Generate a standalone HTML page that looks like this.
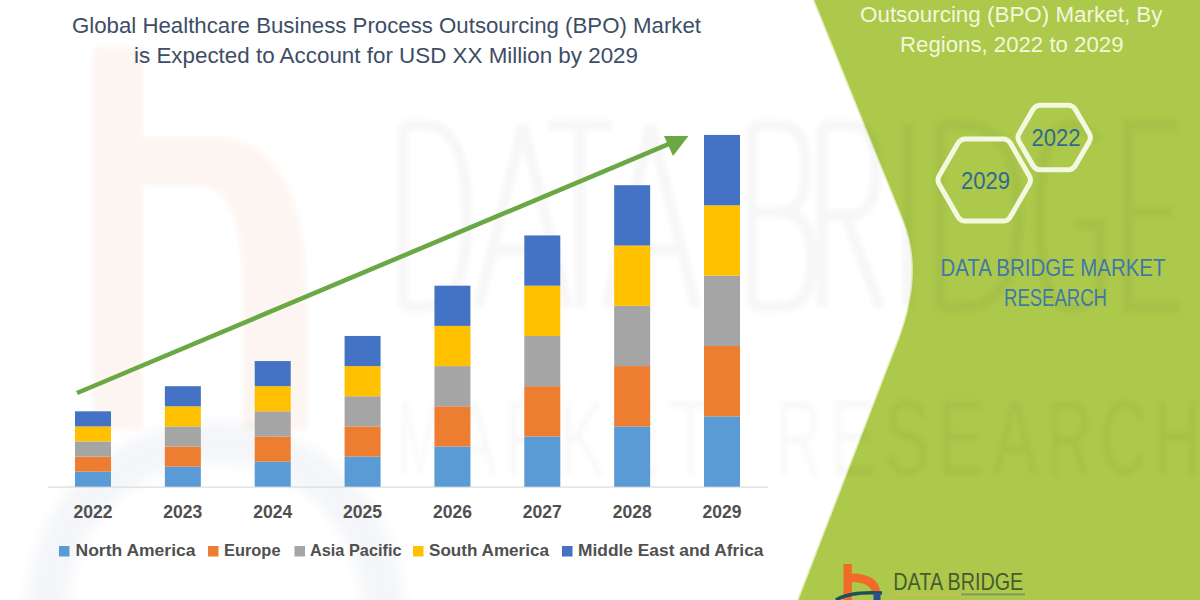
<!DOCTYPE html>
<html><head><meta charset="utf-8">
<style>
html,body{margin:0;padding:0;background:#fff;}
body{width:1200px;height:600px;overflow:hidden;position:relative;font-family:"Liberation Sans",sans-serif;}
svg{position:absolute;left:0;top:0;}
</style></head>
<body>
<svg width="1200" height="600" viewBox="0 0 1200 600" font-family="Liberation Sans, sans-serif">
  <rect width="1200" height="600" fill="#ffffff"/>
  <!-- faint b logo watermark -->
  <defs><filter id="bl" x="-5%" y="-5%" width="110%" height="110%"><feGaussianBlur stdDeviation="2"/></filter><filter id="bl2" x="-10%" y="-10%" width="120%" height="120%"><feGaussianBlur stdDeviation="7"/></filter></defs>
  <path d="M93,47 L143,47 L143,137 L225,137 Q307,150 307,300 L307,430 L243,430 L243,300 Q243,186 200,186 L143,186 L143,430 L93,430 Z" fill="#e8602a" opacity="0.055" filter="url(#bl)"/>
  <circle cx="215" cy="610" r="168" fill="none" stroke="#2d4f88" stroke-width="40" opacity="0.05" filter="url(#bl2)"/>
  <!-- green panel -->
  <path d="M813.5,0 L1200,0 L1200,600 L797.8,600 L897.9,340 Q923.9,272.5 902.6,220 Z" fill="#acc94b"/>
  <path d="M813.5,0 L902.6,220 Q923.9,272.5 897.9,340 L797.8,600" fill="none" stroke="#e4efc0" stroke-width="1.5"/>
  <!-- watermark -->
  <defs><clipPath id="cg"><path d="M813.5,0 L1200,0 L1200,600 L797.8,600 L897.9,340 Q923.9,272.5 902.6,220 Z"/></clipPath><clipPath id="cw"><path d="M0,0 L813.5,0 L902.6,220 Q923.9,272.5 897.9,340 L797.8,600 L0,600 Z"/></clipPath></defs>
  <g clip-path="url(#cw)"><g filter="url(#bl)">
  <path d="M403,125 L403,307 M403,125 L425,125 Q467,125 467,216 Q467,307 425,307 L403,307 M478,307 L523,125 L568,307 M492,250 L554,250 M548,125 L612,125 M580,125 L580,307 M606,307 L651,125 L696,307 M620,250 L682,250 M752,125 L752,307 M752,125 L780,125 Q806,125 806,170 Q806,212 780,212 L752,212 M780,212 Q812,212 812,260 Q812,307 780,307 L752,307 M822,125 L822,307 M822,125 L850,125 Q876,125 876,170 Q876,215 850,215 L822,215 M845,215 L880,307 M908,125 L908,307 M940,125 L940,307 M940,125 L962,125 Q1018,125 1018,216 Q1018,307 962,307 L940,307 M1098,140 Q1085,125 1068,125 Q1040,125 1040,216 Q1040,307 1068,307 Q1088,307 1100,295 L1100,225 L1075,225 M1178,125 L1128,125 L1128,307 L1180,307 M1128,212 L1172,212" fill="none" stroke="#000" stroke-opacity="0.033" stroke-width="11"/>
  <g font-size="108" fill="#000" fill-opacity="0.022"><text x="397.0" y="475" textLength="46" lengthAdjust="spacingAndGlyphs">M</text><text x="451.1" y="475" textLength="46" lengthAdjust="spacingAndGlyphs">A</text><text x="505.2" y="475" textLength="46" lengthAdjust="spacingAndGlyphs">R</text><text x="559.3" y="475" textLength="46" lengthAdjust="spacingAndGlyphs">K</text><text x="613.4" y="475" textLength="46" lengthAdjust="spacingAndGlyphs">E</text><text x="667.5" y="475" textLength="46" lengthAdjust="spacingAndGlyphs">T</text><text x="775.7" y="475" textLength="46" lengthAdjust="spacingAndGlyphs">R</text><text x="829.8" y="475" textLength="46" lengthAdjust="spacingAndGlyphs">E</text><text x="883.9" y="475" textLength="46" lengthAdjust="spacingAndGlyphs">S</text><text x="938.0" y="475" textLength="46" lengthAdjust="spacingAndGlyphs">E</text><text x="992.1" y="475" textLength="46" lengthAdjust="spacingAndGlyphs">A</text><text x="1046.2" y="475" textLength="46" lengthAdjust="spacingAndGlyphs">R</text><text x="1100.3" y="475" textLength="46" lengthAdjust="spacingAndGlyphs">C</text><text x="1154.4" y="475" textLength="46" lengthAdjust="spacingAndGlyphs">H</text></g>
  </g></g>
  <g clip-path="url(#cg)"><g filter="url(#bl)">
  <path d="M403,125 L403,307 M403,125 L425,125 Q467,125 467,216 Q467,307 425,307 L403,307 M478,307 L523,125 L568,307 M492,250 L554,250 M548,125 L612,125 M580,125 L580,307 M606,307 L651,125 L696,307 M620,250 L682,250 M752,125 L752,307 M752,125 L780,125 Q806,125 806,170 Q806,212 780,212 L752,212 M780,212 Q812,212 812,260 Q812,307 780,307 L752,307 M822,125 L822,307 M822,125 L850,125 Q876,125 876,170 Q876,215 850,215 L822,215 M845,215 L880,307 M908,125 L908,307 M940,125 L940,307 M940,125 L962,125 Q1018,125 1018,216 Q1018,307 962,307 L940,307 M1098,140 Q1085,125 1068,125 Q1040,125 1040,216 Q1040,307 1068,307 Q1088,307 1100,295 L1100,225 L1075,225 M1178,125 L1128,125 L1128,307 L1180,307 M1128,212 L1172,212" fill="none" stroke="#000" stroke-opacity="0.04" stroke-width="11"/>
  <g font-size="108" fill="#000" fill-opacity="0.04"><text x="397.0" y="475" textLength="46" lengthAdjust="spacingAndGlyphs">M</text><text x="451.1" y="475" textLength="46" lengthAdjust="spacingAndGlyphs">A</text><text x="505.2" y="475" textLength="46" lengthAdjust="spacingAndGlyphs">R</text><text x="559.3" y="475" textLength="46" lengthAdjust="spacingAndGlyphs">K</text><text x="613.4" y="475" textLength="46" lengthAdjust="spacingAndGlyphs">E</text><text x="667.5" y="475" textLength="46" lengthAdjust="spacingAndGlyphs">T</text><text x="775.7" y="475" textLength="46" lengthAdjust="spacingAndGlyphs">R</text><text x="829.8" y="475" textLength="46" lengthAdjust="spacingAndGlyphs">E</text><text x="883.9" y="475" textLength="46" lengthAdjust="spacingAndGlyphs">S</text><text x="938.0" y="475" textLength="46" lengthAdjust="spacingAndGlyphs">E</text><text x="992.1" y="475" textLength="46" lengthAdjust="spacingAndGlyphs">A</text><text x="1046.2" y="475" textLength="46" lengthAdjust="spacingAndGlyphs">R</text><text x="1100.3" y="475" textLength="46" lengthAdjust="spacingAndGlyphs">C</text><text x="1154.4" y="475" textLength="46" lengthAdjust="spacingAndGlyphs">H</text></g>
  </g></g>
  <!-- title -->
  <g fill="#3e4d66" font-size="22.5">
    <text x="72" y="32.5" textLength="629" lengthAdjust="spacingAndGlyphs">Global Healthcare Business Process Outsourcing (BPO) Market</text>
    <text x="134" y="62.5" textLength="504" lengthAdjust="spacingAndGlyphs">is Expected to Account for USD XX Million by 2029</text>
  </g>
  <!-- axis -->
  <line x1="48" y1="487.2" x2="768" y2="487.2" stroke="#dcdcdc" stroke-width="1.2"/>
  <!-- bars -->
  <g>
<rect x="75.00" y="471.62" width="36" height="15.07" fill="#5b9bd5"/>
<rect x="75.00" y="456.55" width="36" height="15.07" fill="#ed7d31"/>
<rect x="75.00" y="441.48" width="36" height="15.07" fill="#a5a5a5"/>
<rect x="75.00" y="426.40" width="36" height="15.07" fill="#ffc000"/>
<rect x="75.00" y="411.32" width="36" height="15.07" fill="#4472c4"/>
<rect x="164.86" y="466.60" width="36" height="20.10" fill="#5b9bd5"/>
<rect x="164.86" y="446.50" width="36" height="20.10" fill="#ed7d31"/>
<rect x="164.86" y="426.40" width="36" height="20.10" fill="#a5a5a5"/>
<rect x="164.86" y="406.30" width="36" height="20.10" fill="#ffc000"/>
<rect x="164.86" y="386.20" width="36" height="20.10" fill="#4472c4"/>
<rect x="254.72" y="461.57" width="36" height="25.12" fill="#5b9bd5"/>
<rect x="254.72" y="436.45" width="36" height="25.12" fill="#ed7d31"/>
<rect x="254.72" y="411.32" width="36" height="25.12" fill="#a5a5a5"/>
<rect x="254.72" y="386.20" width="36" height="25.12" fill="#ffc000"/>
<rect x="254.72" y="361.07" width="36" height="25.12" fill="#4472c4"/>
<rect x="344.58" y="456.55" width="36" height="30.15" fill="#5b9bd5"/>
<rect x="344.58" y="426.40" width="36" height="30.15" fill="#ed7d31"/>
<rect x="344.58" y="396.25" width="36" height="30.15" fill="#a5a5a5"/>
<rect x="344.58" y="366.10" width="36" height="30.15" fill="#ffc000"/>
<rect x="344.58" y="335.95" width="36" height="30.15" fill="#4472c4"/>
<rect x="434.44" y="446.50" width="36" height="40.20" fill="#5b9bd5"/>
<rect x="434.44" y="406.30" width="36" height="40.20" fill="#ed7d31"/>
<rect x="434.44" y="366.10" width="36" height="40.20" fill="#a5a5a5"/>
<rect x="434.44" y="325.90" width="36" height="40.20" fill="#ffc000"/>
<rect x="434.44" y="285.70" width="36" height="40.20" fill="#4472c4"/>
<rect x="524.30" y="436.45" width="36" height="50.25" fill="#5b9bd5"/>
<rect x="524.30" y="386.20" width="36" height="50.25" fill="#ed7d31"/>
<rect x="524.30" y="335.95" width="36" height="50.25" fill="#a5a5a5"/>
<rect x="524.30" y="285.70" width="36" height="50.25" fill="#ffc000"/>
<rect x="524.30" y="235.45" width="36" height="50.25" fill="#4472c4"/>
<rect x="614.16" y="426.40" width="36" height="60.30" fill="#5b9bd5"/>
<rect x="614.16" y="366.10" width="36" height="60.30" fill="#ed7d31"/>
<rect x="614.16" y="305.80" width="36" height="60.30" fill="#a5a5a5"/>
<rect x="614.16" y="245.50" width="36" height="60.30" fill="#ffc000"/>
<rect x="614.16" y="185.20" width="36" height="60.30" fill="#4472c4"/>
<rect x="704.02" y="416.35" width="36" height="70.35" fill="#5b9bd5"/>
<rect x="704.02" y="346.00" width="36" height="70.35" fill="#ed7d31"/>
<rect x="704.02" y="275.65" width="36" height="70.35" fill="#a5a5a5"/>
<rect x="704.02" y="205.30" width="36" height="70.35" fill="#ffc000"/>
<rect x="704.02" y="134.95" width="36" height="70.35" fill="#4472c4"/>
  </g>
  <!-- arrow -->
  <line x1="77" y1="393" x2="672" y2="142.7" stroke="#6aa844" stroke-width="4.6"/>
  <polygon points="688.5,136 664,136 673,156" fill="#6aa844"/>
  <!-- year labels -->
  <g fill="#505050" font-size="17.5" font-weight="bold">
<text x="73.50" y="518.2" textLength="39" lengthAdjust="spacingAndGlyphs">2022</text>
<text x="163.36" y="518.2" textLength="39" lengthAdjust="spacingAndGlyphs">2023</text>
<text x="253.22" y="518.2" textLength="39" lengthAdjust="spacingAndGlyphs">2024</text>
<text x="343.08" y="518.2" textLength="39" lengthAdjust="spacingAndGlyphs">2025</text>
<text x="432.94" y="518.2" textLength="39" lengthAdjust="spacingAndGlyphs">2026</text>
<text x="522.80" y="518.2" textLength="39" lengthAdjust="spacingAndGlyphs">2027</text>
<text x="612.66" y="518.2" textLength="39" lengthAdjust="spacingAndGlyphs">2028</text>
<text x="702.52" y="518.2" textLength="39" lengthAdjust="spacingAndGlyphs">2029</text>
  </g>
  <!-- legend -->
  <g font-size="17" font-weight="bold" fill="#505050">
    <rect x="59" y="546" width="10.5" height="10.5" fill="#5b9bd5"/>
    <text x="75.5" y="556" textLength="120" lengthAdjust="spacingAndGlyphs">North America</text>
    <rect x="208" y="546" width="10.5" height="10.5" fill="#ed7d31"/>
    <text x="224" y="556" textLength="56.5" lengthAdjust="spacingAndGlyphs">Europe</text>
    <rect x="294.5" y="546" width="10.5" height="10.5" fill="#a5a5a5"/>
    <text x="310" y="556" textLength="91.5" lengthAdjust="spacingAndGlyphs">Asia Pacific</text>
    <rect x="413" y="546" width="10.5" height="10.5" fill="#ffc000"/>
    <text x="429" y="556" textLength="120" lengthAdjust="spacingAndGlyphs">South America</text>
    <rect x="562" y="546" width="10.5" height="10.5" fill="#4472c4"/>
    <text x="578" y="556" textLength="185.5" lengthAdjust="spacingAndGlyphs">Middle East and Africa</text>
  </g>
  <!-- green panel text -->
  <g fill="#f3f7dc" font-size="22">
    <text x="860" y="21.9" textLength="302.5" lengthAdjust="spacingAndGlyphs">Outsourcing (BPO) Market, By</text>
    <text x="900" y="51.9" textLength="223.5" lengthAdjust="spacingAndGlyphs">Regions, 2022 to 2029</text>
  </g>
  <!-- hexagons -->
  <g fill="none" stroke="#f4f8e0" stroke-width="5" stroke-linejoin="round">
    <path d="M1029.19,175.67 Q1031.70,180.00 1029.19,184.33 L1010.46,216.67 Q1007.95,221.00 1002.95,221.00 L965.45,221.00 Q960.45,221.00 957.94,216.67 L939.21,184.33 Q936.70,180.00 939.21,175.67 L957.94,143.33 Q960.45,139.00 965.45,139.00 L1002.95,139.00 Q1007.95,139.00 1010.46,143.33 Z"/>
    <path d="M1089.18,133.18 Q1091.70,137.50 1089.18,141.82 L1075.47,165.38 Q1072.95,169.70 1067.95,169.70 L1040.45,169.70 Q1035.45,169.70 1032.93,165.38 L1019.22,141.82 Q1016.70,137.50 1019.22,133.18 L1032.93,109.62 Q1035.45,105.30 1040.45,105.30 L1067.95,105.30 Q1072.95,105.30 1075.47,109.62 Z"/>
  </g>
  <g fill="#2f6a90" font-size="23">
    <text x="961" y="188.6" textLength="49" lengthAdjust="spacingAndGlyphs">2029</text>
    <text x="1031.5" y="145.5" textLength="49" lengthAdjust="spacingAndGlyphs">2022</text>
  </g>
  <g fill="#3f78a8" font-size="23">
    <text x="940.4" y="276.4" textLength="225" lengthAdjust="spacingAndGlyphs">DATA BRIDGE MARKET</text>
    <text x="1004" y="306.2" textLength="103" lengthAdjust="spacingAndGlyphs">RESEARCH</text>
  </g>
  <!-- bottom logo -->
  <g>
    <path d="M843.5,600 L843.5,564 L851.8,564 L851.8,573.6 Q878,573.6 880.5,592.5 L872,592.5 Q869.5,582 851.8,582 L851.8,600 Z" fill="#f06a2a"/>
    <path d="M836,600 Q850,591 882,593" fill="none" stroke="#1f4f5a" stroke-width="3.5"/>
    <rect x="873.5" y="593" width="7" height="7" fill="#2a4f8f"/>
    <text x="893.3" y="590" font-size="24" fill="#4a5a30" textLength="130" lengthAdjust="spacingAndGlyphs" font-weight="normal">DATA BRIDGE</text>
    <rect x="893" y="593.5" width="68" height="1.8" fill="#c9bf5a"/>
    <rect x="961" y="593.5" width="64" height="1.8" fill="#7d9466"/>
  </g>
</svg>
</body></html>
